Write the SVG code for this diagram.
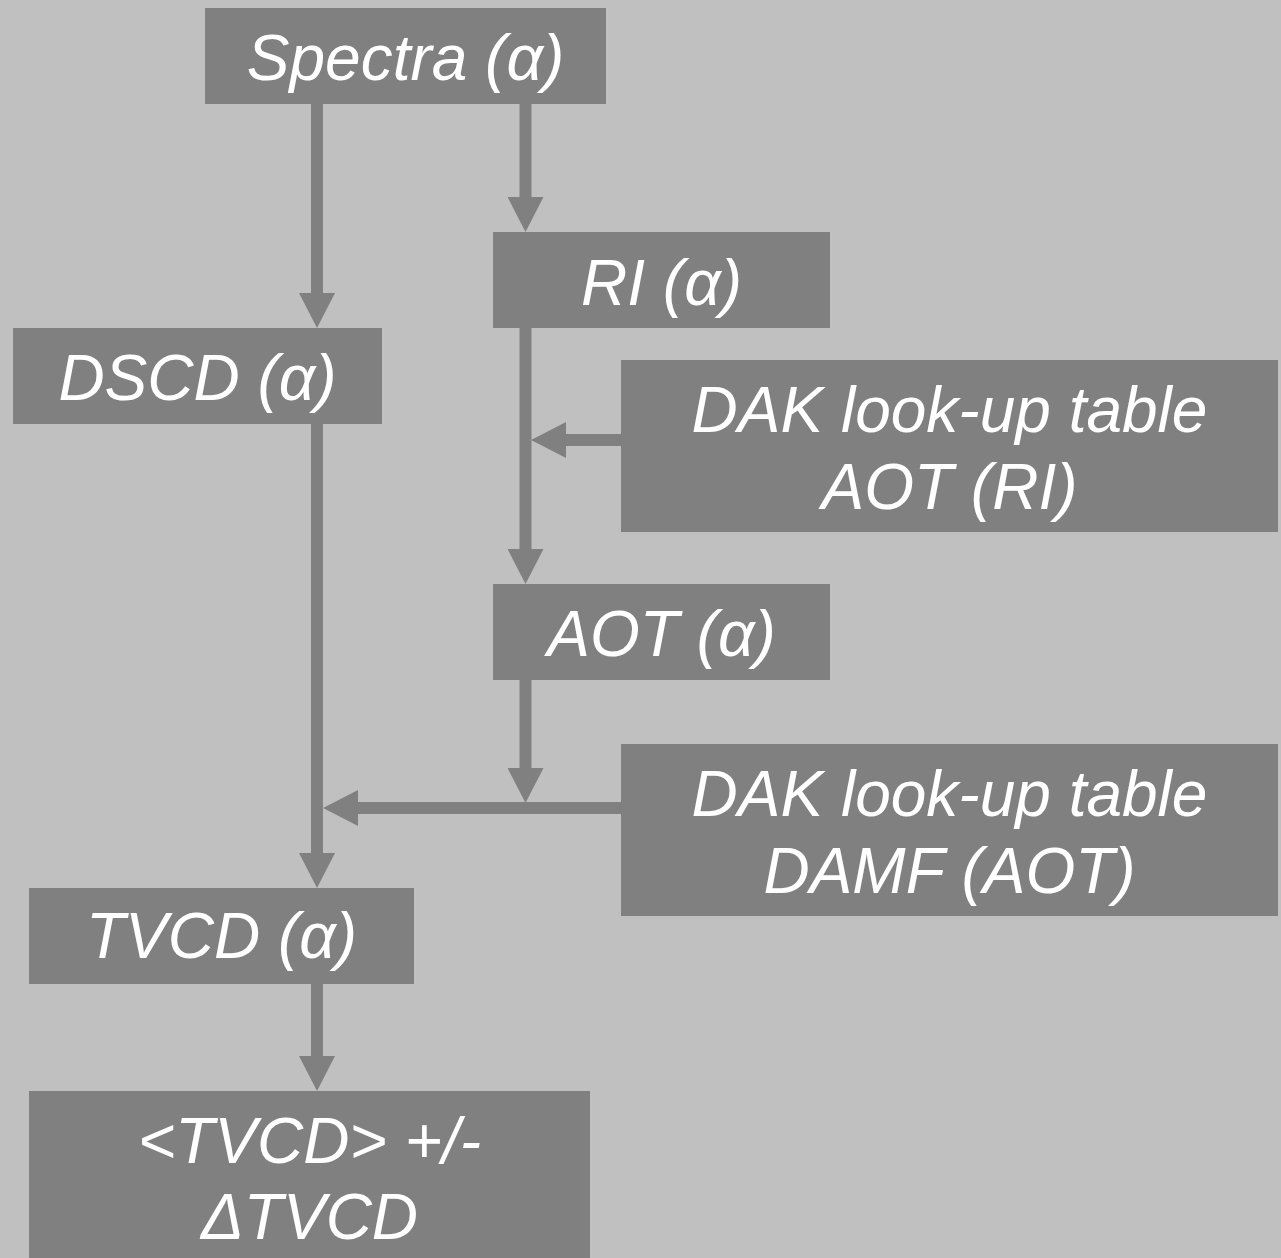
<svg xmlns="http://www.w3.org/2000/svg" width="1281" height="1258" viewBox="0 0 1281 1258">
<defs>
<style>
.box{fill:#808080}
.t{font-family:"Liberation Sans",Arial,sans-serif;font-style:italic;font-size:64px;fill:#ffffff;text-anchor:middle}
.c{stroke:#808080;stroke-width:12;fill:none}
</style>
<marker id="ah" markerUnits="userSpaceOnUse" viewBox="0 0 35 36" refX="20" refY="18" markerWidth="35" markerHeight="36" orient="auto">
<path d="M0,0 L35,18 L0,36 Z" fill="#808080"/>
</marker>
</defs>
<rect width="1281" height="1258" fill="#c0c0c0"/>
<g id="connectors">
<line class="c" x1="317" y1="104" x2="317" y2="313" marker-end="url(#ah)"/>
<line class="c" x1="525.5" y1="104" x2="525.5" y2="217" marker-end="url(#ah)"/>
<line class="c" x1="525.5" y1="328" x2="525.5" y2="569" marker-end="url(#ah)"/>
<line class="c" x1="621" y1="440" x2="546" y2="440" marker-end="url(#ah)"/>
<line class="c" x1="525.5" y1="680" x2="525.5" y2="788" marker-end="url(#ah)"/>
<line class="c" x1="621" y1="808" x2="338" y2="808" marker-end="url(#ah)"/>
<line class="c" x1="317" y1="424" x2="317" y2="873" marker-end="url(#ah)"/>
<line class="c" x1="317" y1="984" x2="317" y2="1076" marker-end="url(#ah)"/>
</g>
<g id="spectra"><rect class="box" x="205" y="8" width="401" height="96"/><text class="t" x="405.5" y="80">Spectra (α)</text></g>
<g id="ri"><rect class="box" x="493" y="232" width="337" height="96"/><text class="t" x="661.5" y="305">RI (α)</text></g>
<g id="dscd"><rect class="box" x="13" y="328" width="369" height="96"/><text class="t" x="197.5" y="400">DSCD (α)</text></g>
<g id="dak1"><rect class="box" x="621" y="360" width="657" height="172"/><text class="t" x="949.5" y="432">DAK look-up table</text><text class="t" x="949.5" y="509">AOT (RI)</text></g>
<g id="aot"><rect class="box" x="493" y="584" width="337" height="96"/><text class="t" x="661.5" y="656">AOT (α)</text></g>
<g id="dak2"><rect class="box" x="621" y="744" width="657" height="172"/><text class="t" x="949.5" y="816">DAK look-up table</text><text class="t" x="949.5" y="893">DAMF (AOT)</text></g>
<g id="tvcd"><rect class="box" x="29" y="888" width="385" height="96"/><text class="t" x="221.5" y="958">TVCD (α)</text></g>
<g id="result"><rect class="box" x="29" y="1091" width="561" height="167"/><text class="t" x="309.5" y="1163">&lt;TVCD&gt; +/-</text><text class="t" x="309.5" y="1239">ΔTVCD</text></g>
</svg>
